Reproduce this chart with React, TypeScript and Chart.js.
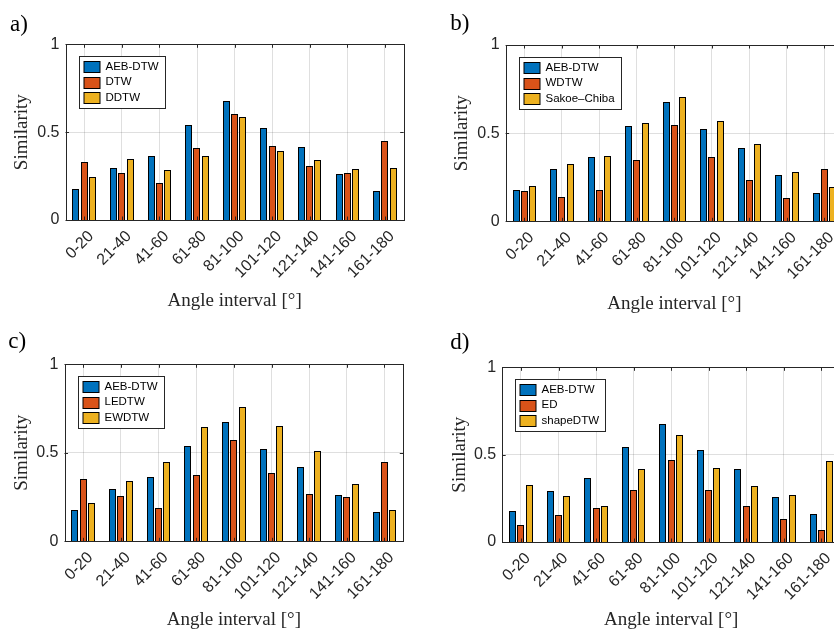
import { useEffect, useRef } from "react";
import { Chart, registerables } from "chart.js";

Chart.register(...registerables);

// Angle bins along the x axis
const angleBins = ["0-20", "21-40", "41-60", "61-80", "81-100", "101-120", "121-140", "141-160", "161-180"];
const yTickValues = [0, 0.5, 1];

// Similarity per angle bin for each method
const aebDtw = [0.176, 0.294, 0.364, 0.541, 0.675, 0.524, 0.417, 0.26, 0.163];
const dtw = [0.33, 0.268, 0.213, 0.408, 0.603, 0.419, 0.309, 0.268, 0.452];
const ddtw = [0.243, 0.349, 0.283, 0.362, 0.588, 0.395, 0.34, 0.288, 0.298];
const wdtw = [0.173, 0.139, 0.178, 0.349, 0.548, 0.362, 0.233, 0.133, 0.296];
const sakoeChiba = [0.203, 0.324, 0.37, 0.556, 0.706, 0.567, 0.436, 0.279, 0.194];
const ledtw = [0.35, 0.254, 0.19, 0.377, 0.574, 0.388, 0.267, 0.25, 0.45];
const ewdtw = [0.215, 0.343, 0.45, 0.644, 0.757, 0.65, 0.512, 0.322, 0.177];
const ed = [0.095, 0.152, 0.192, 0.295, 0.472, 0.297, 0.204, 0.13, 0.067];
const shapeDtw = [0.326, 0.263, 0.206, 0.417, 0.61, 0.421, 0.32, 0.267, 0.465];

const methodColors = ["#0072BD", "#D95319", "#EDB120"];
const axisColor = "#262626";
const gridColor = "rgba(38,38,38,0.15)";
const sans = '"Liberation Sans", Arial, Helvetica, sans-serif';
const serif = '"Liberation Serif", "Times New Roman", serif';
const tickLen = 3.5;

type PanelSpec = {
  tag: string;
  names: string[];
  series: number[][];
  box: { left: number; top: number; width: number; height: number };
  area: { l: number; t: number; r: number; b: number };
  tagAt: [number, number];
  xTitleY: number;
  yTitleX: number;
};

const panels: PanelSpec[] = [
  {
    tag: "a)",
    names: ["AEB-DTW", "DTW", "DDTW"],
    series: [aebDtw, dtw, ddtw],
    box: { left: 0, top: 0, width: 417, height: 316 },
    area: { l: 65.5, t: 44.3, r: 403.7, b: 220 },
    tagAt: [10, 30.5],
    xTitleY: 300.6,
    yTitleX: 21.7,
  },
  {
    tag: "b)",
    names: ["AEB-DTW", "WDTW", "Sakoe–Chiba"],
    series: [aebDtw, wdtw, sakoeChiba],
    box: { left: 417, top: 0, width: 440, height: 316 },
    area: { l: 88.6, t: 45, r: 426.2, b: 221.3 },
    tagAt: [33.3, 30],
    xTitleY: 304,
    yTitleX: 44.7,
  },
  {
    tag: "c)",
    names: ["AEB-DTW", "LEDTW", "EWDTW"],
    series: [aebDtw, ledtw, ewdtw],
    box: { left: 0, top: 316, width: 417, height: 316 },
    area: { l: 64.5, t: 48.3, r: 403.3, b: 225.3 },
    tagAt: [8.3, 31.5],
    xTitleY: 303.6,
    yTitleX: 21.7,
  },
  {
    tag: "d)",
    names: ["AEB-DTW", "ED", "shapeDTW"],
    series: [aebDtw, ed, shapeDtw],
    box: { left: 417, top: 316, width: 440, height: 316 },
    area: { l: 85.2, t: 51.3, r: 423.2, b: 226 },
    tagAt: [33.3, 32.5],
    xTitleY: 304,
    yTitleX: 43.3,
  },
];

// Pixel-snapped bars with a soft rim, box, inward tick marks, boxed legend and panel letter
const decor = {
  id: "decor",
  beforeDatasetsDraw(chart: any) {
    const { ctx } = chart;
    chart.data.datasets.forEach((_d: any, i: number) => {
      chart.getDatasetMeta(i).data.forEach((bar: any) => {
        const w = Math.round(bar.width);
        const x0 = Math.round(bar.x - bar.width / 2);
        bar.width = w;
        bar.x = x0 + w / 2;
        bar.y = Math.round(bar.y);
        bar.base = Math.round(bar.base) + 1;
      });
    });
    ctx.save();
    ctx.shadowColor = "rgba(0,0,0,0.3)";
    ctx.shadowBlur = 1.5;
  },
  afterDatasetsDraw(chart: any) {
    const { ctx, chartArea, scales } = chart;
    ctx.restore();
    const { left, top, right, bottom } = chartArea;
    const xs = scales.x;
    const ys = scales.y;
    ctx.save();
    ctx.strokeStyle = axisColor;
    ctx.lineWidth = 1;
    ctx.beginPath();
    xs.ticks.forEach((_t: any, i: number) => {
      const px = Math.round(xs.getPixelForTick(i)) + 0.5;
      ctx.moveTo(px, bottom);
      ctx.lineTo(px, bottom - tickLen);
      ctx.moveTo(px, top);
      ctx.lineTo(px, top + tickLen);
    });
    ys.ticks.forEach((t: any) => {
      const py = Math.round(ys.getPixelForValue(t.value)) + 0.5;
      ctx.moveTo(left, py);
      ctx.lineTo(left + tickLen, py);
      ctx.moveTo(right, py);
      ctx.lineTo(right - tickLen, py);
    });
    ctx.stroke();
    const l = Math.round(left) + 0.5;
    const t = Math.round(top) + 0.5;
    ctx.strokeRect(l, t, Math.round(right) - Math.round(left), Math.round(bottom) - Math.round(top));
    ctx.restore();
  },
  afterDraw(chart: any, _args: any, opts: any) {
    const { ctx, chartArea } = chart;
    const sets = chart.data.datasets;
    ctx.save();
    // legend
    ctx.font = `11.5px ${sans}`;
    const textW = Math.max(...sets.map((d: any) => ctx.measureText(d.label).width));
    const lx = Math.round(chartArea.left + 13) + 0.5;
    const ly = Math.round(chartArea.top + 12) + 0.5;
    const pitch = 15.3;
    const margin = 10.5;
    const lw = Math.round(26 + textW + 6.5);
    const lh = Math.round(margin * 2 + pitch * (sets.length - 1));
    ctx.fillStyle = "#ffffff";
    ctx.fillRect(lx, ly, lw, lh);
    ctx.strokeStyle = axisColor;
    ctx.lineWidth = 1;
    ctx.strokeRect(lx, ly, lw, lh);
    sets.forEach((d: any, i: number) => {
      const cy = ly + margin + pitch * i;
      const sy = Math.round(cy - 5.75) + 0.5;
      ctx.fillStyle = d.backgroundColor;
      ctx.fillRect(lx + 4.5, sy, 16, 11);
      ctx.strokeStyle = "#000000";
      ctx.strokeRect(lx + 4.5, sy, 16, 11);
      ctx.fillStyle = "#000000";
      ctx.textAlign = "left";
      ctx.textBaseline = "middle";
      ctx.fillText(d.label, lx + 26, cy);
    });
    // panel letter
    ctx.font = `23px ${serif}`;
    ctx.fillStyle = "#000000";
    ctx.textAlign = "left";
    ctx.textBaseline = "alphabetic";
    ctx.fillText(opts.tag, opts.tagAt[0], opts.tagAt[1]);
    ctx.restore();
  },
};

function PanelChart({ spec }: { spec: PanelSpec }) {
  const ref = useRef<HTMLCanvasElement | null>(null);

  useEffect(() => {
    if (!ref.current) return;
    const { box, area } = spec;
    const xTitleLine = 19 * 1.2;
    const yTitleLine = 19 * 1.2;
    const chart = new Chart(ref.current, {
      type: "bar",
      data: {
        labels: angleBins,
        datasets: spec.series.map((values, i) => ({
          label: spec.names[i],
          data: values,
          backgroundColor: methodColors[i],
          borderColor: "#000000",
          borderWidth: 1,
          borderSkipped: false,
          categoryPercentage: 0.66,
          barPercentage: 0.86,
        })),
      },
      options: {
        animation: false,
        responsive: false,
        devicePixelRatio: 1,
        events: [],
        layout: {
          padding: { left: 0, top: area.t, right: box.width - area.r, bottom: 0 },
        },
        plugins: {
          legend: { display: false },
          tooltip: { enabled: false },
          decor: { tag: spec.tag, tagAt: spec.tagAt },
        } as any,
        scales: {
          x: {
            type: "category",
            offset: true,
            grid: { display: true, offset: false, color: gridColor, lineWidth: 1, drawTicks: false },
            border: { display: false },
            ticks: {
              autoSkip: false,
              minRotation: 45,
              maxRotation: 45,
              padding: 7,
              labelOffset: 7,
              color: axisColor,
              font: { family: sans, size: 16 },
            },
            title: {
              display: true,
              text: "Angle interval [°]",
              color: axisColor,
              font: { family: serif, size: 19 },
              padding: { top: 0, bottom: box.height - spec.xTitleY - xTitleLine / 2 },
            },
            afterFit: (s: any) => {
              s.height = box.height - area.b;
              s.paddingLeft = 0;
              s.paddingRight = 0;
            },
          },
          y: {
            type: "linear",
            min: 0,
            max: 1,
            grid: { display: true, color: gridColor, lineWidth: 1, drawTicks: false },
            border: { display: false },
            afterBuildTicks: (s: any) => {
              s.ticks = yTickValues.map((v) => ({ value: v }));
            },
            ticks: {
              padding: 6,
              color: axisColor,
              font: { family: sans, size: 16 },
              callback: (v: any) => String(v),
            },
            title: {
              display: true,
              text: "Similarity",
              color: axisColor,
              font: { family: serif, size: 19 },
              padding: { top: spec.yTitleX - yTitleLine / 2, bottom: 0 },
            },
            afterFit: (s: any) => {
              s.width = area.l;
              s.paddingTop = 0;
              s.paddingBottom = 0;
            },
          },
        },
      },
      plugins: [decor],
    } as any);
    return () => chart.destroy();
  }, [spec]);

  return (
    <canvas
      ref={ref}
      width={spec.box.width}
      height={spec.box.height}
      style={{
        position: "absolute",
        left: spec.box.left,
        top: spec.box.top,
        width: spec.box.width,
        height: spec.box.height,
      }}
    />
  );
}

export default function App() {
  return (
    <div
      style={{
        position: "absolute",
        left: 0,
        top: 0,
        width: 834,
        height: 632,
        overflow: "hidden",
        background: "#ffffff",
      }}
    >
      {panels.map((p) => (
        <PanelChart key={p.tag} spec={p} />
      ))}
    </div>
  );
}
